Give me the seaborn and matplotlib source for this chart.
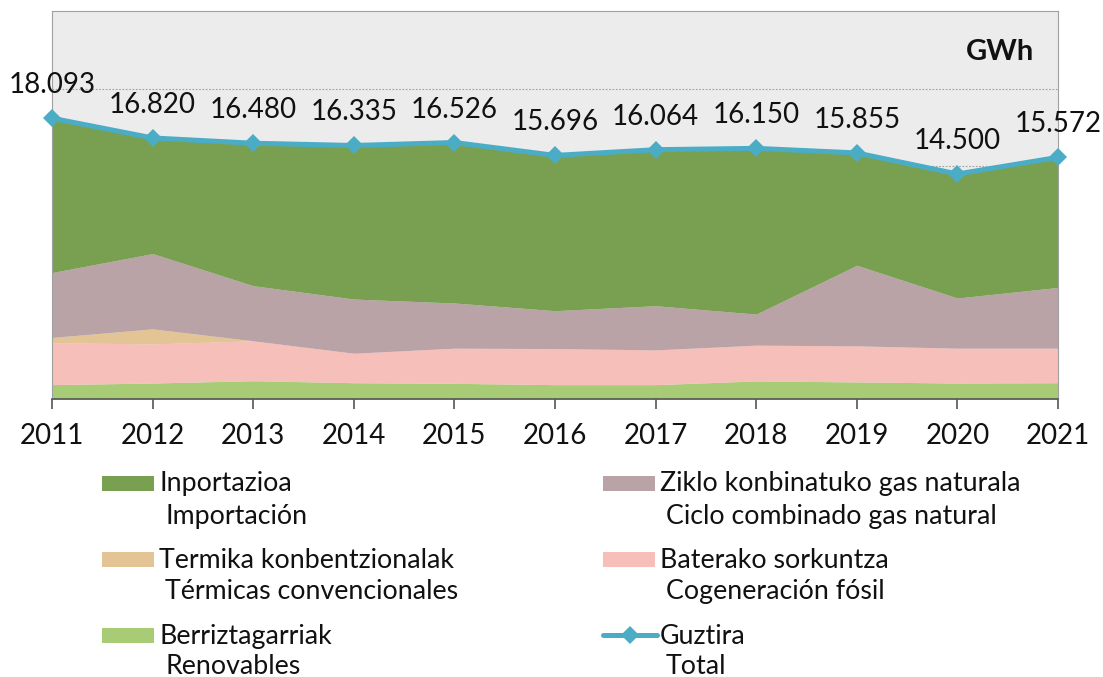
import matplotlib
matplotlib.use("Agg")
import matplotlib.pyplot as plt
import seaborn as sns
import pandas as pd
from matplotlib.patches import Rectangle
from matplotlib.lines import Line2D

years = [2011, 2012, 2013, 2014, 2015, 2016, 2017, 2018, 2019, 2020, 2021]
renovables = [925, 1030, 1180, 1050, 1010, 925, 925, 1165, 1100, 1030, 1050]
cogeneracion = [2700, 2520, 2570, 1900, 2265, 2325, 2240, 2305, 2325, 2245, 2225]
termicas = [340, 970, 0, 0, 0, 0, 0, 0, 0, 0, 0]
ciclo_combinado = [4180, 4850, 3550, 3490, 2910, 2440, 2845, 2000, 5190, 3230, 3915]
importacion = [9948, 7450, 9180, 9895, 10341, 10006, 10054, 10680, 7240, 7995, 8382]
total = [18093, 16820, 16480, 16335, 16526, 15696, 16064, 16150, 15855, 14500, 15572]

labels_eu = ["Inportazioa", "Ziklo konbinatuko gas naturala", "Termika konbentzionalak",
             "Baterako sorkuntza", "Berriztagarriak", "Guztira"]
labels_es = ["Importación", "Ciclo combinado gas natural", "Térmicas convencionales",
             "Cogeneración fósil", "Renovables", "Total"]

c_imp = "#78a050"
c_cc = "#b9a3a6"
c_term = "#e3c595"
c_cog = "#f6bfba"
c_ren = "#a8cc76"
c_tot = "#4bacc6"

sns.set_theme(style="white")
plt.rcParams["font.family"] = ["Lato", "DejaVu Sans"]

fig = plt.figure(figsize=(11.03, 6.77), dpi=100)
W, H = 1103, 677
ax = fig.add_axes([52 / W, 1 - 399 / H, (1058 - 52) / W, (399 - 11) / H])
ax.set_facecolor("#ececec")

ax.stackplot(years, renovables, cogeneracion, termicas, ciclo_combinado, importacion,
             colors=[c_ren, c_cog, c_term, c_cc, c_imp], linewidth=0, zorder=2)

df = pd.DataFrame({"year": years, "total": total})
sns.lineplot(data=df, x="year", y="total", ax=ax, color=c_tot, linewidth=3.6,
             marker="D", markersize=9, markeredgewidth=0, zorder=4, clip_on=False)

for x, v in zip(years, total):
    ax.annotate(f"{v:,}".replace(",", "."), (x, v), xytext=(0, 18), textcoords="offset points",
                ha="center", va="baseline", fontsize=20, color="#111111", zorder=5,
                annotation_clip=False)

ax.set_xlim(2011, 2021)
ax.set_ylim(0, 25000)
ax.set_yticks([5000, 10000, 15000, 20000])
ax.set_yticklabels([])
ax.yaxis.grid(True, linestyle=(0, (1.5, 1.5)), color="#a0a0a0", linewidth=0.8, zorder=1)
ax.set_axisbelow(True)
ax.tick_params(axis="y", length=0)
ax.set_xticks(years)
ax.set_xticklabels([str(y) for y in years], fontsize=20, color="#111111")
ax.tick_params(axis="x", direction="out", length=7, width=1.2, color="#555555", pad=10,
               bottom=True)
ax.set_xlabel("")
ax.set_ylabel("")
for s in ["top", "right", "left"]:
    ax.spines[s].set_color("#a0a0a0")
    ax.spines[s].set_linewidth(0.8)
ax.spines["bottom"].set_color("#555555")
ax.spines["bottom"].set_linewidth(1.2)

ax.text(0.976, 0.875, "GWh", transform=ax.transAxes, ha="right",
        va="baseline", fontsize=21, fontweight="bold", color="#111111")

# legend drawn manually (two columns, two-line labels)
def fy(py):
    return 1 - py / H

entries = [
    (c_imp, "patch", 102, 476, 159, 491, 524, 0),
    (c_cc, "patch", 603, 476, 660, 491, 524, 1),
    (c_term, "patch", 102, 552, 159, 568, 599, 2),
    (c_cog, "patch", 603, 552, 660, 568, 599, 3),
    (c_ren, "patch", 102, 628, 159, 644, 674, 4),
    (c_tot, "line", 603, 628, 660, 644, 674, 5),
]
for color, kind, hx, hy, tx, b1, b2, i in entries:
    if kind == "patch":
        fig.add_artist(Rectangle((hx / W, fy(hy + 15)), 52 / W, 15 / H,
                                 transform=fig.transFigure, facecolor=color, edgecolor="none"))
    else:
        fig.add_artist(Line2D([hx / W, (hx + 54) / W], [fy(hy + 7), fy(hy + 7)],
                              transform=fig.transFigure, color=color, linewidth=3.6,
                              solid_capstyle="round"))
        fig.add_artist(Line2D([(hx + 27) / W], [fy(hy + 7)], transform=fig.transFigure,
                              color=color, marker="D", markersize=9, markeredgewidth=0,
                              linestyle="none"))
    fig.text(tx / W, fy(b1), labels_eu[i], fontsize=19.3, color="#111111", va="baseline",
             ha="left")
    fig.text((tx + 6) / W, fy(b2), labels_es[i], fontsize=19.3, color="#111111",
             va="baseline", ha="left")

fig.savefig("out.png", dpi=100)
